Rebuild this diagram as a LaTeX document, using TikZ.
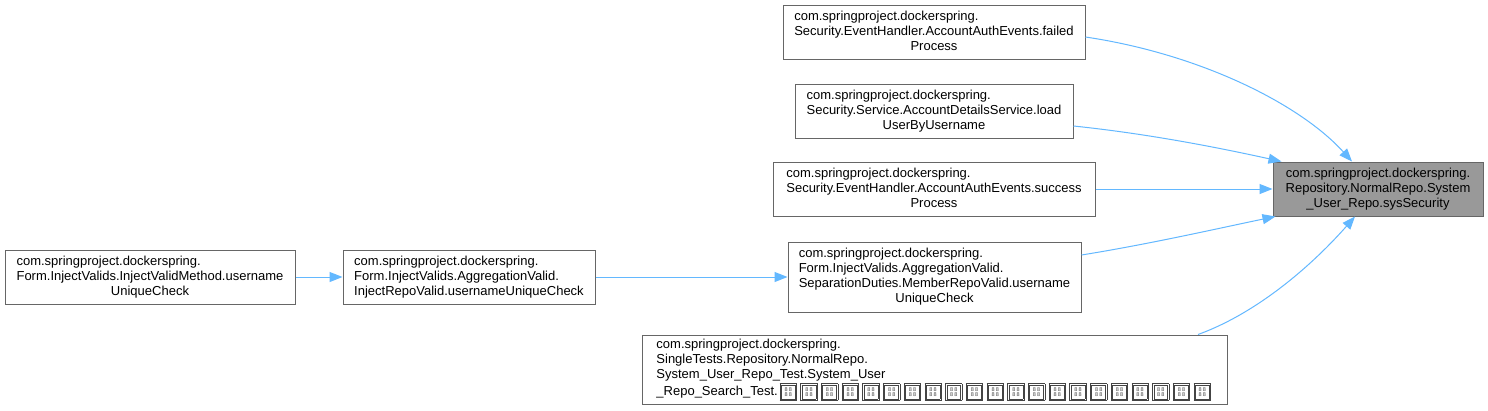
\documentclass[tikz,border=0pt]{standalone}
\usepackage{fontspec}
\setmainfont{Liberation Sans}
\usetikzlibrary{arrows.meta}
\definecolor{edgeblue}{HTML}{63B8FF}
\definecolor{boxline}{HTML}{666666}
\definecolor{mainfill}{HTML}{999999}
\definecolor{tofugray}{HTML}{444444}
\newcommand\tofurow{\hbox to 12pt{\hss\fontsize{5.5}{5.5}\selectfont 8\kern1.2pt8\hss}}
\newcommand\tofuglyph{\hbox to 20.7pt{\hss\color{tofugray}\setlength\fboxsep{0.6pt}\setlength\fboxrule{0.7pt}\raisebox{-3pt}{\fbox{\fbox{\vbox to 12pt{\vss\tofurow\vskip1pt\tofurow\vss}}}}\hss}}
\begin{document}
\begin{tikzpicture}[x=1pt,y=-1pt,
  box/.style={draw=boxline,line width=1pt,fill=white,rectangle,inner sep=0pt,
    font=\fontsize{13}{15}\selectfont},
  mainbox/.style={box,fill=mainfill},
  edge/.style={draw=edgeblue,line width=1pt,-{Triangle[length=13pt,width=10pt]}}]
\useasboundingbox (0,0) rectangle (1488,410);
\fill[white] (0,0) rectangle (1488,410);

\node[mainbox,minimum width=210pt,minimum height=54pt] (main) at (1378,189)
  {\begin{tabular}{@{}c@{}}com.springproject.dockerspring.\\Repository.NormalRepo.System\\\_User\_Repo.sysSecurity\end{tabular}};

\node[box,minimum width=302pt,minimum height=54pt] (failed) at (934,32)
  {\begin{tabular}{@{}l@{}}com.springproject.dockerspring.\\Security.EventHandler.AccountAuthEvents.failed\\\multicolumn{1}{@{}c@{}}{Process}\end{tabular}};

\node[box,minimum width=278pt,minimum height=54pt] (load) at (934,111)
  {\begin{tabular}{@{}l@{}}com.springproject.dockerspring.\\Security.Service.AccountDetailsService.load\\\multicolumn{1}{@{}c@{}}{UserByUsername}\end{tabular}};

\node[box,minimum width=322pt,minimum height=54pt] (success) at (934,189)
  {\begin{tabular}{@{}l@{}}com.springproject.dockerspring.\\Security.EventHandler.AccountAuthEvents.success\\\multicolumn{1}{@{}c@{}}{Process}\end{tabular}};

\node[box,minimum width=293pt,minimum height=70pt] (member) at (934.5,277)
  {\begin{tabular}{@{}l@{}}com.springproject.dockerspring.\\Form.InjectValids.AggregationValid.\\SeparationDuties.MemberRepoValid.username\\\multicolumn{1}{@{}c@{}}{UniqueCheck}\end{tabular}};

\node[box,minimum width=252pt,minimum height=54pt] (repo) at (469,277)
  {\begin{tabular}{@{}l@{}}com.springproject.dockerspring.\\Form.InjectValids.AggregationValid.\\InjectRepoValid.usernameUniqueCheck\end{tabular}};

\node[box,minimum width=290pt,minimum height=54pt] (method) at (150,277)
  {\begin{tabular}{@{}l@{}}com.springproject.dockerspring.\\Form.InjectValids.InjectValidMethod.username\\\multicolumn{1}{@{}c@{}}{UniqueCheck}\end{tabular}};

\node[box,minimum width=585pt,minimum height=69pt] (test) at (934.5,369.5)
  {\begin{tabular}{@{}l@{}}com.springproject.dockerspring.\\SingleTests.Repository.NormalRepo.\\System\_User\_Repo\_Test.System\_User\\\_Repo\_Search\_Test.\tofuglyph\tofuglyph\tofuglyph\tofuglyph\tofuglyph\tofuglyph\tofuglyph\tofuglyph\tofuglyph\tofuglyph\tofuglyph\tofuglyph\tofuglyph\tofuglyph\tofuglyph\tofuglyph\tofuglyph\tofuglyph\tofuglyph\tofuglyph\tofuglyph\end{tabular}};

\draw[edge] ([yshift=-5pt]failed.east) .. controls (1200,54) and (1300,104) .. ([xshift=-26pt]main.north);
\draw[edge] ([yshift=-15pt]load.east) .. controls (1150,134) and (1220,148) .. ([xshift=9pt]main.north west);
\draw[edge] (success.east) -- (main.west);
\draw[edge] ([yshift=22pt]member.east) .. controls (1150,244) and (1220,228) .. ([xshift=3pt]main.south west);
\draw[edge] ([xshift=263.5pt]test.north) .. controls (1260,312) and (1315,262) .. ([xshift=-23pt]main.south);
\draw[edge] (repo.east) -- (member.west);
\draw[edge] (method.east) -- (repo.west);
\end{tikzpicture}
\end{document}
